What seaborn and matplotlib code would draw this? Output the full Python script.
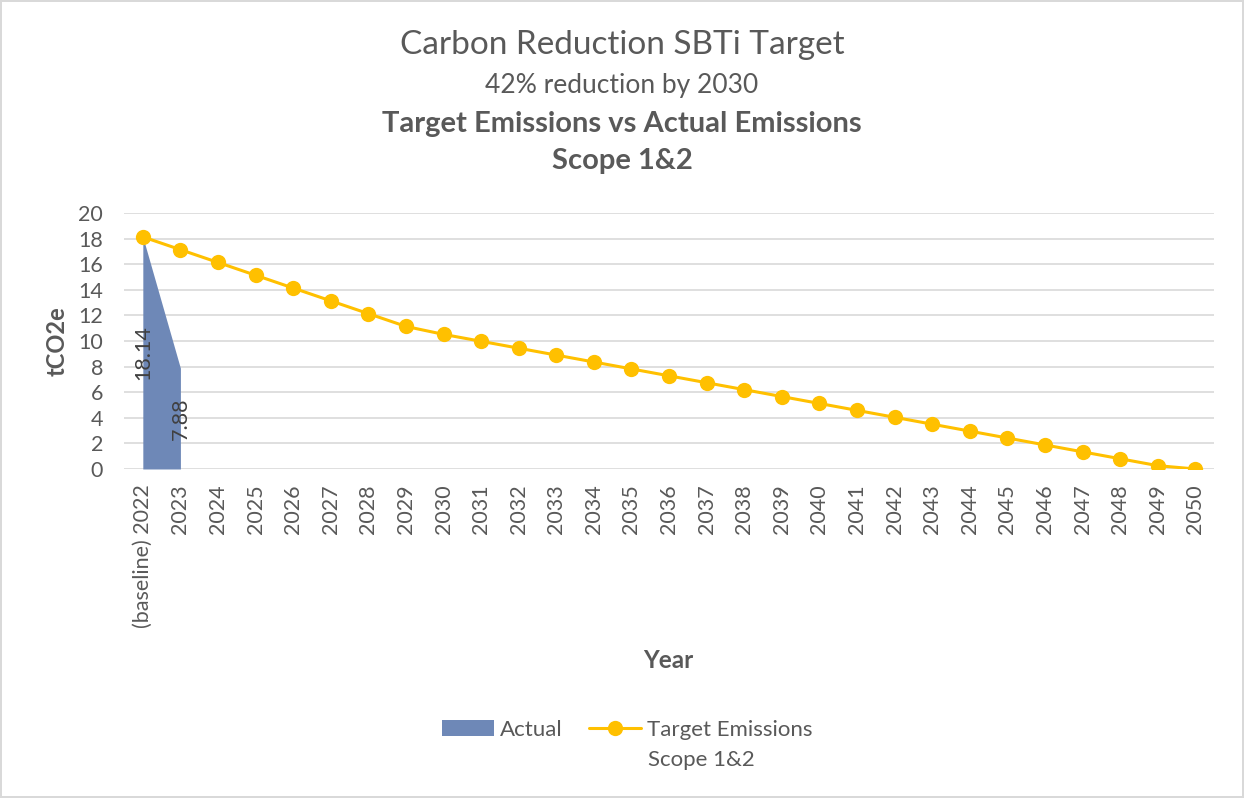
import matplotlib
matplotlib.use("Agg")
import matplotlib.pyplot as plt
import seaborn as sns
import pandas as pd
from matplotlib.patches import Patch
from matplotlib.lines import Line2D

years = ["(baseline) 2022"] + [str(y) for y in range(2023, 2051)]
target = [18.14, 17.14, 16.14, 15.14, 14.14, 13.14, 12.14, 11.14, 10.52,
          9.98, 9.44, 8.90, 8.36, 7.82, 7.28, 6.74, 6.20, 5.66, 5.12,
          4.58, 4.04, 3.50, 2.96, 2.42, 1.88, 1.34, 0.80, 0.26, 0.0]
actual = [18.14, 7.88]

GREY = "#595959"
BLUE = "#6E88B7"
GOLD = "#FFC000"

sns.set_theme(style="white")
plt.rcParams["font.family"] = ["Lato", "DejaVu Sans"]
plt.rcParams["text.color"] = GREY

df = pd.DataFrame({"pos": range(len(years)), "year": years, "target": target})

fig = plt.figure(figsize=(12.44, 7.98), dpi=100)
fig.patch.set_edgecolor("#D9D9D9")
fig.patch.set_linewidth(1.5)
ax = fig.add_axes([0.0997, 0.4123, 0.8763, 0.3207])

# actual emissions as area
ax.fill_between(range(len(actual)), actual, 0, color=BLUE, lw=0, zorder=2)
for i, v in enumerate(actual):
    ax.text(i, v / 2, f"{v:.2f}", rotation=90, ha="center", va="center",
            fontsize=15.5, color="#404040", zorder=4)

sns.lineplot(data=df, x="pos", y="target", ax=ax, color=GOLD, lw=2.2,
             marker="o", markersize=11, markeredgewidth=0, zorder=3)

ax.set_xlim(-0.5, len(years) - 0.5)
ax.set_ylim(0, 20)
ax.set_yticks(range(0, 21, 2))
ax.set_xticks(range(len(years)))
ax.set_xticklabels(years, rotation=90, va="top")
ax.tick_params(axis="x", length=0, pad=11, labelsize=15.5, labelcolor=GREY)
ax.tick_params(axis="y", length=0, pad=15, labelsize=15.5, labelcolor=GREY)
ax.grid(True, axis="y", color="#D9D9D9", lw=1.2, zorder=0)
ax.set_axisbelow(True)
for s in ax.spines.values():
    s.set_visible(False)

ax.set_xlabel("")
ax.set_ylabel("tCO2e", fontsize=17, fontweight="bold", color=GREY, labelpad=7)
fig.text(0.537, 1 - 660 / 798, "Year", ha="center", va="center",
         fontsize=17.5, fontweight="bold", color=GREY)

fig.text(0.5, 1 - 45 / 798, "Carbon Reduction SBTi Target", ha="center",
         va="center", fontsize=24, color=GREY)
fig.text(0.5, 1 - 86 / 798, "42% reduction by 2030", ha="center",
         va="center", fontsize=19, color=GREY)
fig.text(0.5, 1 - 124 / 798, "Target Emissions vs Actual Emissions", ha="center",
         va="center", fontsize=21, fontweight="bold", color=GREY)
fig.text(0.5, 1 - 161 / 798, "Scope 1&2", ha="center",
         va="center", fontsize=21, fontweight="bold", color=GREY)

handles = [Patch(facecolor=BLUE, edgecolor="none"),
           Line2D([], [], color=GOLD, lw=2.2, marker="o", markersize=11,
                  markeredgewidth=0)]
fig.legend(handles, ["Actual", "Target Emissions"], ncol=2, frameon=False,
           loc="center", bbox_to_anchor=(0.5045, 1 - 730 / 798), fontsize=16,
           handlelength=2.3, handletextpad=0.3, columnspacing=1.2,
           labelcolor=GREY)
fig.text(648 / 1244, 1 - 760 / 798, "Scope 1&2", ha="left", va="center",
         fontsize=16, color=GREY)

fig.savefig("out.png", dpi=100, facecolor="white",
            edgecolor=fig.get_edgecolor())
